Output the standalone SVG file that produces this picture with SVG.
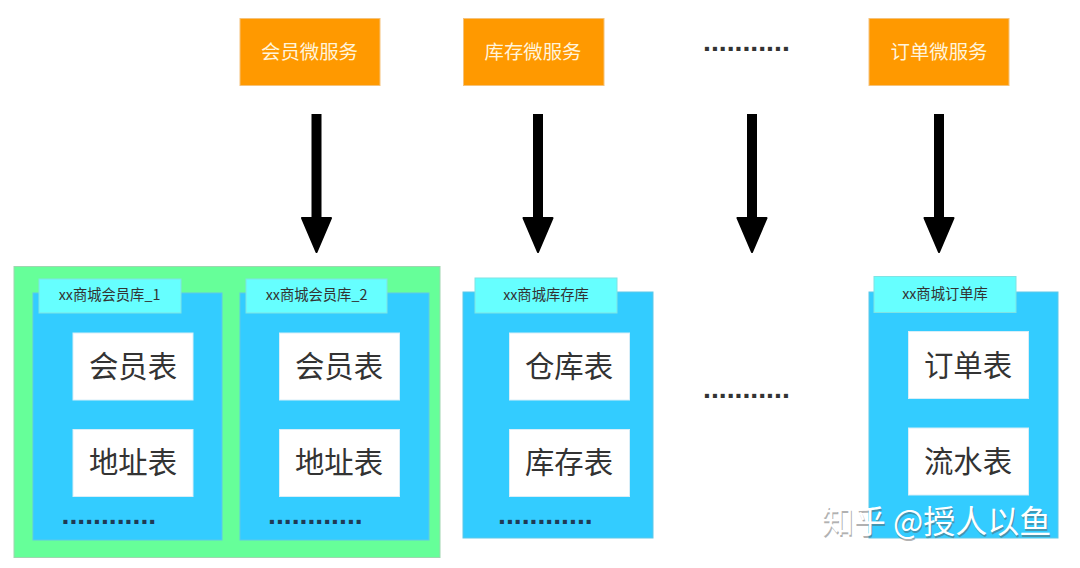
<svg xmlns="http://www.w3.org/2000/svg" width="1080" height="568" viewBox="0 0 1080 568">
<defs>
<marker id="arrow" markerUnits="userSpaceOnUse" markerWidth="42" markerHeight="36" refX="2" refY="18" orient="auto"><path d="M2 3.500 L36 18 L2 32.500 Z" fill="#000" stroke="#000" stroke-width="2" stroke-linejoin="round"/></marker>
</defs>
<style>
text{font-family:"Noto Sans CJK SC","Noto Sans",sans-serif;text-anchor:middle}
.svc rect{fill:#ff9900;stroke:#f5c27a;stroke-width:1}
.svc text{fill:#fff4dc;font-size:19.4px}
.db{fill:#33ccff;stroke:#5fc8e8;stroke-width:1}
.tab rect{fill:#66ffff;stroke:#7fe3e3;stroke-width:1}
.tab text{fill:#333;font-size:14.3px}
.tbl rect{fill:#fff;stroke:#d8eef8;stroke-width:1}
.tbl text{fill:#333;font-size:29.400px}
.dots{font-family:"Liberation Sans",Arial,sans-serif;font-weight:700;font-size:28.400px;text-anchor:start;fill:#1f3a55}
.dots2{fill:#333}
.conn line{stroke:#000;stroke-width:10;marker-end:url(#arrow)}
</style>

<rect id="cluster" x="14" y="266.500" width="426" height="291" fill="#66ff99" stroke="#9fd6b0"/>

<g id="svc-member" class="svc"><rect x="240" y="18.500" width="140" height="67"/><text x="309.500" y="59">会员微服务</text></g>
<g id="svc-stock" class="svc"><rect x="463.500" y="18.500" width="140.500" height="67"/><text x="533" y="59">库存微服务</text></g>
<text id="svc-more" class="dots dots2" x="703" y="51">...........</text>
<g id="svc-order" class="svc"><rect x="869" y="18.500" width="140" height="67"/><text x="939" y="59">订单微服务</text></g>

<g class="conn" id="connectors">
<line x1="316.500" y1="114" x2="316.500" y2="218"/>
<line x1="538" y1="114" x2="538" y2="218"/>
<line x1="752" y1="114" x2="752" y2="218"/>
<line x1="939" y1="114" x2="939" y2="218"/>
</g>

<g id="db-member-1">
<rect class="db" x="33" y="293" width="189" height="247"/>
<g class="tab"><rect x="39" y="279" width="142" height="34"/><text x="109.500" y="300">xx商城会员库_1</text></g>
<g class="tbl"><rect x="73" y="333" width="120" height="67"/><text x="133" y="377">会员表</text></g>
<g class="tbl"><rect x="73" y="429.500" width="120" height="67"/><text x="133" y="473">地址表</text></g>
<text class="dots" x="61.500" y="523.500">............</text>
</g>
<g id="db-member-2">
<rect class="db" x="240" y="293" width="189" height="247"/>
<g class="tab"><rect x="246" y="279" width="141" height="34"/><text x="316.500" y="300">xx商城会员库_2</text></g>
<g class="tbl"><rect x="279.500" y="333" width="120" height="67"/><text x="339" y="377">会员表</text></g>
<g class="tbl"><rect x="279.500" y="429.500" width="120" height="67"/><text x="339" y="473">地址表</text></g>
<text class="dots" x="268" y="523.500">............</text>
</g>
<g id="db-stock">
<rect class="db" x="463" y="292" width="190" height="246"/>
<g class="tab"><rect x="475" y="278" width="142" height="35"/><text x="546" y="300">xx商城库存库</text></g>
<g class="tbl"><rect x="509.500" y="333" width="120" height="67"/><text x="569" y="377">仓库表</text></g>
<g class="tbl"><rect x="509.500" y="429.500" width="120" height="67"/><text x="569" y="473">库存表</text></g>
<text class="dots" x="498" y="523.500">............</text>
</g>
<text id="db-more" class="dots dots2" x="703" y="398">...........</text>
<g id="db-order">
<rect class="db" x="869" y="292" width="189" height="246"/>
<g class="tab"><rect x="874" y="276.500" width="142" height="36"/><text x="945" y="299">xx商城订单库</text></g>
<g class="tbl"><rect x="908.500" y="331.500" width="120" height="67"/><text x="968" y="376">订单表</text></g>
<g class="tbl"><rect x="908.500" y="428" width="120" height="67"/><text x="968" y="472">流水表</text></g>
</g>
<g id="watermark">
<text x="936.500" y="533" style="font-size:32px;fill:#555;opacity:.45" transform="translate(1 1.500)">知乎 @授人以鱼</text>
<text x="936.500" y="533" style="font-size:32px;fill:#fff">知乎 @授人以鱼</text>
</g>
</svg>
